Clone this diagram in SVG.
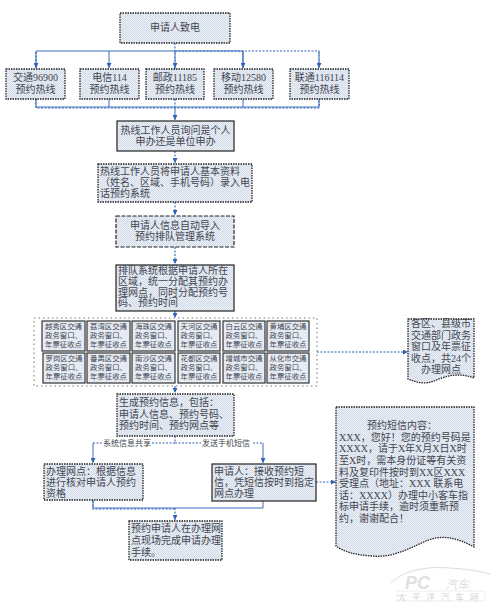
<svg xmlns="http://www.w3.org/2000/svg" width="500" height="610" viewBox="0 0 500 610">
<style>
text{font-family:"Liberation Serif","Noto Sans CJK SC",serif;fill:#41464f}
.t{font-size:10px}
.m{text-anchor:middle}
.s{font-size:7.4px;text-anchor:middle}
.l{font-size:8px}
.box{fill:url(#dith);stroke:#222;stroke-width:1.2}
.dot{fill:url(#dith);stroke:#222;stroke-width:1.3;stroke-dasharray:1.5 1}
.dash{fill:url(#dith);stroke:#222;stroke-width:1.2;stroke-dasharray:4 1.5}
.sm{fill:#e6ebf3;stroke:#333;stroke-width:1.2}
.c{fill:none;stroke:#3a6fc0;stroke-width:1}
.d{fill:none;stroke:#2f63b8;stroke-width:1.1;stroke-dasharray:2 1.5}
.a{marker-end:url(#ah)}
</style>
<defs>
<pattern id="dith" width="2" height="2" patternUnits="userSpaceOnUse">
<rect width="2" height="2" fill="#e9edf4"/><rect width="1" height="1" fill="#d6ddea"/><rect x="1" y="1" width="1" height="1" fill="#d6ddea"/>
</pattern>
<marker id="ah" markerWidth="6" markerHeight="5" refX="5" refY="2.5" orient="auto" markerUnits="userSpaceOnUse">
<path d="M0 0L5 2.5L0 5Z" fill="#2f63b8"/>
</marker>
</defs>
<rect width="500" height="610" fill="#fff"/>

<g id="connectors">
<path class="d" d="M175 43V69"/>
<path class="c" d="M175 51H36V68"/>
<path class="c a" d="M109 51V68"/>
<path class="d" d="M175 51H319V68"/>
<path class="c" d="M175 51H243V68"/>
<path class="c a" d="M243 51V68"/>
<path class="d a" d="M36 52V68"/>
<path class="d a" d="M175 52V68"/>
<path class="d a" d="M319 52V68"/>
<path class="c" d="M36 99V107H319V99"/>
<path class="d" d="M36 99V108H319V99"/>
<path class="c" d="M109 99V107M243 99V107"/>
<path class="c a" d="M175 107V120"/>
<path class="d" d="M175 99V107"/>
<path class="d a" d="M175 151V163"/>
<path class="d a" d="M175 202V215"/>
<path class="d a" d="M175 247V264"/>
<path class="d a" d="M175 311V318"/>
<path class="d a" d="M175 386V393"/>
<path class="d a" d="M317 352H408"/>
<path class="d" d="M175 436V443"/>
<path class="d" d="M175 443H152M102 443H93"/>
<path class="c a" d="M93 443V463"/>
<path class="d" d="M175 443H201M253 443H263"/>
<path class="c a" d="M263 443V463"/>
<path class="c" d="M93 500V508H263V501"/>
<path class="d" d="M93 501V509H175"/>
<path class="d a" d="M175 508V520"/>
<path class="d a" d="M316 482H336"/>
</g>

<g id="n-start"><rect class="dot" x="120" y="13" width="110" height="30"/><text class="t m" x="175" y="31">申请人致电</text></g>

<g id="n-hl1"><rect class="dot" x="6" y="69" width="59" height="30"/><text class="t m" x="35.500" y="81">交通96900</text><text class="t m" x="35.500" y="93">预约热线</text></g>
<g id="n-hl2"><rect class="dot" x="80" y="69" width="59" height="30"/><text class="t m" x="109.500" y="81">电信114</text><text class="t m" x="109.500" y="93">预约热线</text></g>
<g id="n-hl3"><rect class="dot" x="146" y="69" width="58" height="30"/><text class="t m" x="175" y="81">邮政11185</text><text class="t m" x="175" y="93">预约热线</text></g>
<g id="n-hl4"><rect class="dot" x="214" y="69" width="59" height="30"/><text class="t m" x="243.500" y="81">移动12580</text><text class="t m" x="243.500" y="93">预约热线</text></g>
<g id="n-hl5"><rect class="dot" x="290" y="69" width="59" height="30"/><text class="t m" x="319.500" y="81">联通116114</text><text class="t m" x="319.500" y="93">预约热线</text></g>

<g id="n-ask"><rect class="box" x="117" y="121" width="117" height="30"/><text class="t m" x="175.500" y="134">热线工作人员询问是个人</text><text class="t m" x="175.500" y="145">申办还是单位申办</text></g>

<g id="n-enter"><rect class="dot" x="98" y="164" width="154" height="38"/><text class="t" x="100" y="175">热线工作人员将申请人基本资料</text><text class="t" x="100" y="186">（姓名、区域、手机号码）录入电</text><text class="t" x="100" y="197">话预约系统</text></g>

<g id="n-import"><rect class="dash" x="116" y="216" width="118" height="31"/><text class="t m" x="175" y="229">申请人信息自动导入</text><text class="t m" x="175" y="240">预约排队管理系统</text></g>

<g id="n-assign"><rect class="box" x="116" y="265" width="118" height="46"/><text class="t" x="118" y="274">排队系统根据申请人所在</text><text class="t" x="118" y="285">区域，统一分配其预约办</text><text class="t" x="118" y="296">理网点，同时分配预约号</text><text class="t" x="118" y="306">码、预约时间</text></g>

<g id="n-group"><rect x="34" y="318" width="283" height="68" fill="#fff" stroke="#777" stroke-width="1" stroke-dasharray="1.500 3"/></g>

<g id="n-o1"><rect class="sm" x="42" y="321" width="43" height="30"/><text class="s" x="63.500" y="329">越秀区交通</text><text class="s" x="63.500" y="338">政务窗口、</text><text class="s" x="63.500" y="347">年票征收点</text></g>
<g id="n-o2"><rect class="sm" x="87" y="321" width="43" height="30"/><text class="s" x="108.500" y="329">荔湾区交通</text><text class="s" x="108.500" y="338">政务窗口、</text><text class="s" x="108.500" y="347">年票征收点</text></g>
<g id="n-o3"><rect class="sm" x="132" y="321" width="43" height="30"/><text class="s" x="153.500" y="329">海珠区交通</text><text class="s" x="153.500" y="338">政务窗口、</text><text class="s" x="153.500" y="347">年票征收点</text></g>
<g id="n-o4"><rect class="sm" x="178" y="321" width="42" height="30"/><text class="s" x="199" y="329">天河区交通</text><text class="s" x="199" y="338">政务窗口、</text><text class="s" x="199" y="347">年票征收点</text></g>
<g id="n-o5"><rect class="sm" x="223" y="321" width="42" height="30"/><text class="s" x="244" y="329">白云区交通</text><text class="s" x="244" y="338">政务窗口、</text><text class="s" x="244" y="347">年票征收点</text></g>
<g id="n-o6"><rect class="sm" x="267" y="321" width="42" height="30"/><text class="s" x="288" y="329">黄埔区交通</text><text class="s" x="288" y="338">政务窗口、</text><text class="s" x="288" y="347">年票征收点</text></g>
<g id="n-o7"><rect class="sm" x="43" y="353" width="42" height="30"/><text class="s" x="64" y="361">罗岗区交通</text><text class="s" x="64" y="370">政务窗口、</text><text class="s" x="64" y="379">年票征收点</text></g>
<g id="n-o8"><rect class="sm" x="87" y="353" width="43" height="30"/><text class="s" x="108.500" y="361">番禺区交通</text><text class="s" x="108.500" y="370">政务窗口、</text><text class="s" x="108.500" y="379">年票征收点</text></g>
<g id="n-o9"><rect class="sm" x="132" y="353" width="43" height="30"/><text class="s" x="153.500" y="361">南沙区交通</text><text class="s" x="153.500" y="370">政务窗口、</text><text class="s" x="153.500" y="379">年票征收点</text></g>
<g id="n-o10"><rect class="sm" x="178" y="353" width="42" height="30"/><text class="s" x="199" y="361">花都区交通</text><text class="s" x="199" y="370">政务窗口、</text><text class="s" x="199" y="379">年票征收点</text></g>
<g id="n-o11"><rect class="sm" x="223" y="353" width="42" height="30"/><text class="s" x="244" y="361">增城市交通</text><text class="s" x="244" y="370">政务窗口、</text><text class="s" x="244" y="379">年票征收点</text></g>
<g id="n-o12"><rect class="sm" x="267" y="353" width="42" height="30"/><text class="s" x="288" y="361">从化市交通</text><text class="s" x="288" y="370">政务窗口、</text><text class="s" x="288" y="379">年票征收点</text></g>

<g id="n-note1"><path class="dot" d="M408 319H474V378C458 372 446 376 434 381C424 385 416 382 408 379Z"/><text class="t m" x="441" y="327">各区、县级市</text><text class="t m" x="441" y="339">交通部门政务</text><text class="t m" x="441" y="350">窗口及年票征</text><text class="t m" x="441" y="362">收点，共24个</text><text class="t m" x="441" y="373">办理网点</text></g>

<g id="n-gen"><rect class="dot" x="117" y="394" width="117" height="42"/><text class="t" x="119" y="406">生成预约信息，包括：</text><text class="t" x="119" y="418">申请人信息、预约号码、</text><text class="t" x="119" y="429">预约时间、预约网点等</text></g>

<g id="labels"><text class="l" x="103" y="446">系统信息共享</text><text class="l" x="202" y="446">发送手机短信</text></g>

<g id="n-office"><rect class="dot" x="44" y="464" width="99" height="36"/><text class="t" x="46" y="475">办理网点：根据信息</text><text class="t" x="46" y="486">进行核对申请人预约</text><text class="t" x="46" y="497">资格</text></g>

<g id="n-applicant"><rect class="box" x="212" y="464" width="104" height="37"/><text class="t" x="214" y="475">申请人：接收预约短</text><text class="t" x="214" y="486">信，凭短信按时到指定</text><text class="t" x="214" y="497">网点办理</text></g>

<g id="n-done"><rect class="dot" x="129" y="521" width="93" height="39"/><text class="t" x="131" y="532">预约申请人在办理网</text><text class="t" x="131" y="544">点现场完成申请办理</text><text class="t" x="131" y="556">手续。</text></g>

<g id="n-sms"><path class="dot" d="M336 407H474V547C458 538 442 534 426 541C408 549 392 558 372 556C356 555 344 552 336 546Z"/><text class="t m" x="402" y="429">预约短信内容：</text><text class="t" x="339" y="441">XXX，您好！您的预约号码是</text><text class="t" x="339" y="452">XXXX，请于X年X月X日X时</text><text class="t" x="339" y="464">至X时，需本身份证等有关资</text><text class="t" x="339" y="476">料及复印件按时到XX区XXX</text><text class="t" x="339" y="487">受理点（地址：XXX 联系电</text><text class="t" x="339" y="499">话：XXXX）办理中小客车指</text><text class="t" x="339" y="510">标申请手续，逾时须重新预</text><text class="t" x="339" y="522">约，谢谢配合！</text></g>

<g id="watermark" opacity="0.5">
<path d="M391 583C404 570 428 566 449 568C468 569 484 572 490 574" fill="none" stroke="#bbb" stroke-width="1"/>
<text x="405" y="589" font-size="18" font-style="italic" style="fill:#c4c4c4;font-family:'Liberation Sans',sans-serif" font-weight="bold">PC</text>
<text x="445" y="589" font-size="12" font-style="italic" style="fill:#c4c4c4">汽车</text>
<rect x="397" y="591" width="88" height="10" fill="none" stroke="#ddd"/>
<text x="441" y="600" font-size="8.500" letter-spacing="6" text-anchor="middle" style="fill:#aaa">太平洋汽车网</text>
</g>
</svg>
